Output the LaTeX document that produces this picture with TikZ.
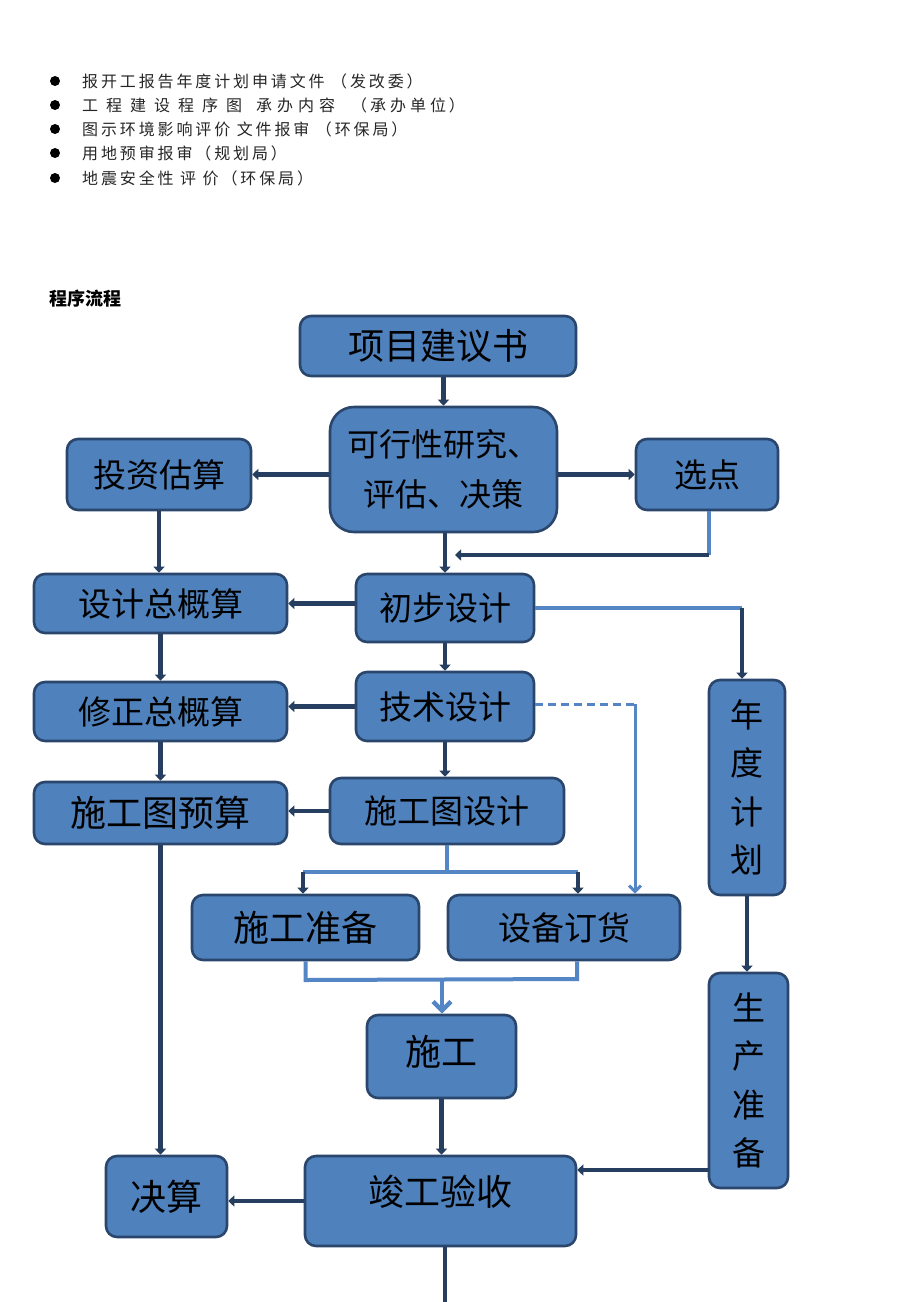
\documentclass[tikz,border=0pt]{standalone}
\usepackage{fontspec}
\newfontfamily\cjk{Noto Sans CJK SC}
\newfontfamily\cjklist[LetterSpace=18]{Noto Sans CJK SC}
\usetikzlibrary{arrows.meta}
\definecolor{boxblue}{RGB}{79,129,189}
\definecolor{boxline}{RGB}{42,70,108}
\definecolor{darkline}{RGB}{38,62,96}
\definecolor{lightline}{RGB}{84,134,198}
\tikzstyle{box}=[draw=boxline,fill=boxblue,line width=2.6pt,rounded corners=11pt,inner sep=0pt,align=center,font=\cjk\fontsize{33}{40}\selectfont]
\tikzstyle{big}=[font=\cjk\fontsize{36}{40}\selectfont]
\tikzstyle{vert}=[font=\cjk\fontsize{33}{48.5}\selectfont]
\tikzstyle{to}=[-{Triangle[length=6pt,width=11pt]},darkline,line width=4.5pt]
\tikzstyle{dline}=[darkline,line width=4.5pt]
\tikzstyle{lline}=[lightline,line width=4pt]
\tikzstyle{lto}=[-{Straight Barb[length=9pt,width=18pt,line width=4.5pt]},lightline,line width=4.5pt]
\tikzstyle{item}=[anchor=west,inner sep=0pt,text=black!85,font=\cjklist\fontsize{16}{18}\selectfont]
\newcommand\gap[1][8pt]{\hspace{#1}}

\begin{document}
\begin{tikzpicture}[x=1pt,y=-1pt]
    \useasboundingbox[fill=white] (0,0) rectangle (920,1302);
    % list at the top
    \foreach \y in {81,105,129,153,178}
        \fill (55,\y) circle (5pt);
    \node[item] (l1) at (82,81) {报开工报告年度计划申请文件 （发改委）};
    \node[item] (l2) at (82,105) {工\gap 程\gap 建\gap 设\gap 程\gap 序\gap 图\gap[14pt]承\gap[5pt]办\gap[5pt]内\gap[5pt]容\gap[16pt]（承\gap[4pt]办\gap[4pt]单\gap[4pt]位）};
    \node[item] (l3) at (82,129) {图示环境影响评价 文件报审 （环保局）};
    \node[item] (l4) at (82,153) {用地预审报审（规划局）};
    \node[item] (l5) at (82,178) {地震安全性 评 价（环保局）};
    \node[anchor=west,inner sep=0pt,font=\cjk\bfseries\fontsize{18}{20}\selectfont] (title) at (49,299) {程序流程};

    % boxes
    \node[box,big,minimum width=276pt,minimum height=60pt] (xm) at (438,346) {项目建议书};
    \node[box,rounded corners=24pt,minimum width=227pt,minimum height=125pt,font=\cjk\fontsize{32}{50}\selectfont] (kx) at (443.5,469.5) {可行性研究、\\评估、决策};
    \node[box,minimum width=184pt,minimum height=71pt] (tz) at (159,474.5) {投资估算};
    \node[box,minimum width=142pt,minimum height=71pt] (xd) at (707,474.5) {选点};
    \node[box,minimum width=253pt,minimum height=59pt] (sjz) at (160.5,603.5) {设计总概算};
    \node[box,minimum width=178pt,minimum height=68pt] (cb) at (445,608) {初步设计};
    \node[box,minimum width=253pt,minimum height=59pt] (xz) at (160.5,711.5) {修正总概算};
    \node[box,minimum width=178pt,minimum height=69pt] (js) at (445,706.5) {技术设计};
    \node[box,big,minimum width=253pt,minimum height=62pt] (ys) at (160.5,813) {施工图预算};
    \node[box,minimum width=234pt,minimum height=66pt] (sj) at (447,811) {施工图设计};
    \node[box,vert,minimum width=76pt,minimum height=215pt] (nd) at (747,787.5) {年\\度\\计\\划};
    \node[box,big,minimum width=227pt,minimum height=65pt] (zb) at (305.5,927.5) {施工准备};
    \node[box,minimum width=232pt,minimum height=65pt] (dh) at (564,927.5) {设备订货};
    \node[box,big,minimum width=149pt,minimum height=83pt] (sg) at (441.5,1056.5) {\raisebox{12pt}{施工}};
    \node[box,vert,minimum width=79pt,minimum height=215pt] (sc) at (748.5,1080.5) {生\\产\\准\\备};
    \node[box,big,minimum width=121pt,minimum height=81pt] (jsuan) at (166.5,1196.5) {决算};
    \node[box,big,minimum width=271pt,minimum height=90pt] (jg) at (440.5,1201) {\raisebox{22pt}{竣工验收}};

    % helper points
    \coordinate (c1) at (709,555);
    \coordinate (c2) at (742,608);
    \coordinate (c3) at (635,704);
    \coordinate (c4) at (303,872);
    \coordinate (c5) at (578,872);
    \coordinate (c6) at (577,979);
    \coordinate (c7) at (442,980);
    \coordinate (c8) at (709,1170);
    \coordinate (c9) at (445,1302);

    % connectors
    \draw[to] (kx.north |- xm.south) -- (kx.north);
    \draw[to] (kx.west |- tz.east) -- (tz.east);
    \draw[to] (kx.east |- xd.west) -- (xd.west);
    \draw[lline] (xd.south -| c1) -- (c1);
    \draw[to] (c1) -- (455,555);
    \draw[to] (kx.south -| cb.north) -- (cb.north);
    \draw[to] (tz.south) -- (tz.south |- sjz.north);
    \draw[to] (cb.west |- sjz.east) -- (sjz.east);
    \draw[lline] (cb.east) -- (c2);
    \draw[to] (c2) -- (c2 |- nd.north);
    \draw[to] (sjz.south) -- (xz.north);
    \draw[to] (cb.south) -- (js.north);
    \draw[to] (js.west) -- (js.west -| xz.east);
    \draw[lightline,line width=3pt,dash pattern=on 8pt off 5pt] (js.east |- c3) -- (c3);
    \draw[-{Straight Barb[length=6pt,width=12pt,line width=3pt]},lightline,line width=3pt] (c3) -- (c3 |- dh.north);
    \draw[to] (xz.south) -- (ys.north);
    \draw[to] (js.south) -- (js.south |- sj.north);
    \draw[to] (sj.west) -- (sj.west -| ys.east);
    \draw[lline] (sj.south) -- (sj.south |- c4);
    \draw[lline] (c4) -- (c5);
    \draw[to] (c4) -- (c4 |- zb.north);
    \draw[to] (c5) -- (c5 |- dh.north);
    \draw[to] (ys.south) -- (ys.south |- jsuan.north);
    \draw[to] (nd.south) -- (nd.south |- sc.north);
    \draw[lline] (zb.south) -- (zb.south |- c7) -- (c6) -- (c6 |- dh.south);
    \draw[lto] (c7) -- (c7 |- sg.north);
    \draw[to] (sg.south) -- (sg.south |- jg.north);
    \draw[to] (c8) -- (c8 -| jg.east);
    \draw[to] (jg.west) -- (jg.west -| jsuan.east);
    \draw[dline] (jg.south -| c9) -- (c9);
\end{tikzpicture}
\end{document}
